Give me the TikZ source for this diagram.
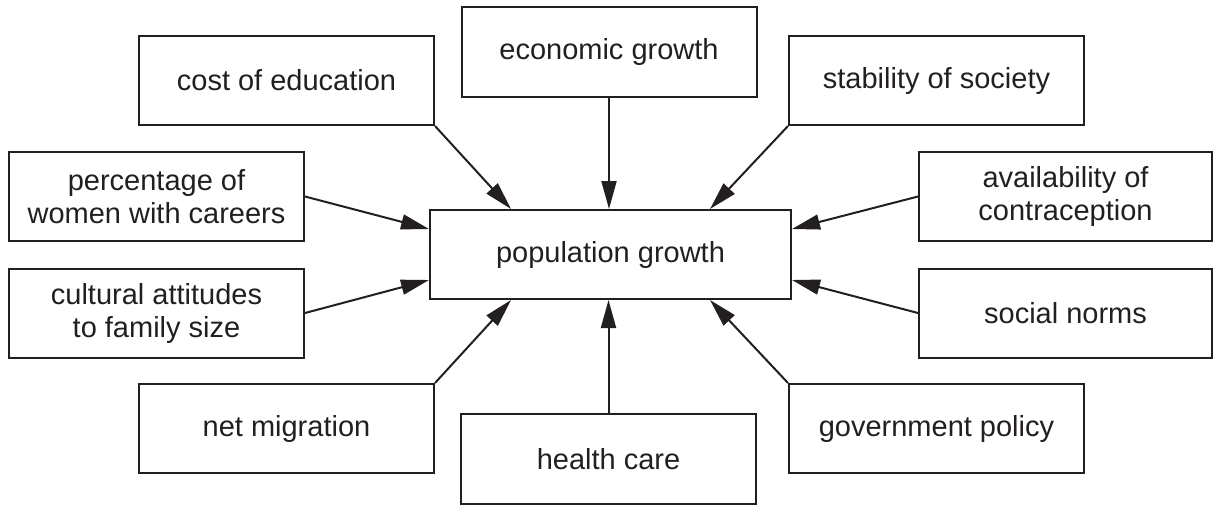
\documentclass[tikz,border=0pt]{standalone}
\usepackage{fontspec}
\setmainfont{Liberation Sans}
\usetikzlibrary{arrows.meta}
\definecolor{ink}{RGB}{35,31,32}
\tikzset{
  factor/.style={draw=ink, line width=1pt, text=ink, minimum width=147.5pt,
    minimum height=44.5pt, inner sep=0pt, align=center,
    font=\fontsize{14.5}{16.5}\selectfont},
  >={Triangle[length=14pt,width=7.5pt]}
}
\begin{document}
\begin{tikzpicture}[x=0.5pt,y=-0.5pt]
    \useasboundingbox (0,0) rectangle (1213,504);
    % centre
    \node [factor,minimum width=180.5pt] (pop) at (610.5,254.5) {population growth};
    % top row
    \node [factor] (cost) at (286.5,80.5) {cost of education};
    \node [factor,minimum height=45pt] (econ) at (609,52) {economic growth};
    \node [factor] (stab) at (936.5,80.5) {stability of society};
    % sides
    \node [factor] (perc) at (156.5,196.5) {percentage of\\women with careers};
    \node [factor] (cult) at (156.5,313) {cultural attitudes\\to family size};
    \node [factor,minimum width=146.5pt] (avail) at (1065.5,196.5) {availability of\\contraception};
    \node [factor,minimum width=146.5pt] (norms) at (1065.5,313) {social norms};
    % bottom row
    \node [factor] (migr) at (286.5,428.5) {net migration};
    \node [factor,minimum height=45pt] (health) at (608.5,459) {health care};
    \node [factor] (gov) at (936.5,428.5) {government policy};
    % arrows
    \draw [->,ink,line width=1pt] (cost.south east) -- ([xshift=41pt]pop.north west);
    \draw [->,ink,line width=1pt] (econ.south) -- (econ.south |- pop.north);
    \draw [->,ink,line width=1pt] (stab.south west) -- ([xshift=-41pt]pop.north east);
    \draw [->,ink,line width=1pt] (perc.east) -- ([yshift=-10pt]pop.north west);
    \draw [->,ink,line width=1pt] (cult.east) -- ([yshift=10pt]pop.south west);
    \draw [->,ink,line width=1pt] (avail.west) -- ([yshift=-10pt]pop.north east);
    \draw [->,ink,line width=1pt] (norms.west) -- ([yshift=10pt]pop.south east);
    \draw [->,ink,line width=1pt] (migr.north east) -- ([xshift=41pt]pop.south west);
    \draw [->,ink,line width=1pt] (health.north) -- (health.north |- pop.south);
    \draw [->,ink,line width=1pt] (gov.north west) -- ([xshift=-41pt]pop.south east);
\end{tikzpicture}
\end{document}
